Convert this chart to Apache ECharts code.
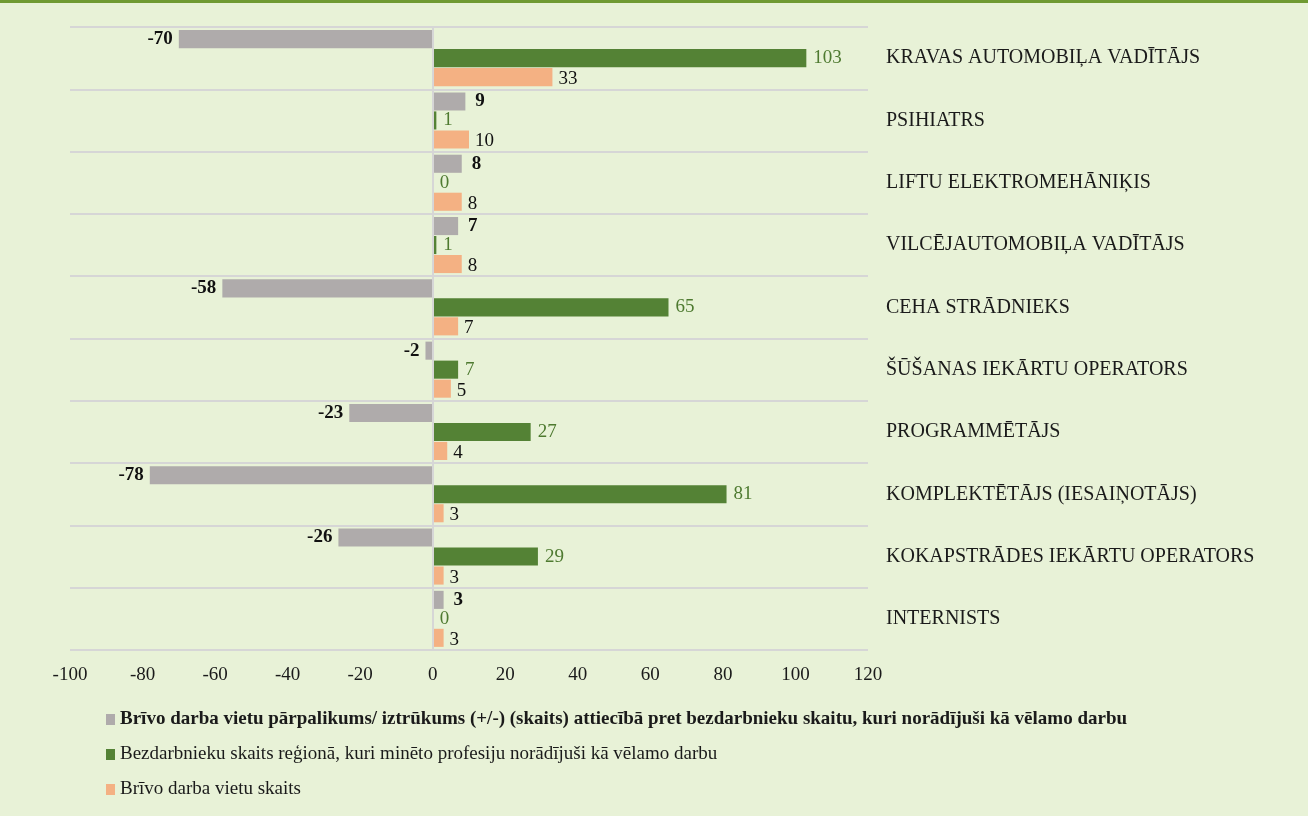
<!DOCTYPE html>
<html>
<head>
<meta charset="utf-8">
<script src="https://cdn.jsdelivr.net/npm/echarts@6/dist/echarts.min.js"></script>
<style>
  html, body { margin: 0; padding: 0; background: #E8F2D7; }
  #chart { width: 1308px; height: 813px; border-top: 3px solid #6F9A32; }
</style>
</head>
<body>
<div id="chart"></div>
<script>
// dati (no augšas uz leju)
var professions = [
  'KRAVAS AUTOMOBIĻA VADĪTĀJS',
  'PSIHIATRS',
  'LIFTU ELEKTROMEHĀNIĶIS',
  'VILCĒJAUTOMOBIĻA VADĪTĀJS',
  'CEHA STRĀDNIEKS',
  'ŠŪŠANAS IEKĀRTU OPERATORS',
  'PROGRAMMĒTĀJS',
  'KOMPLEKTĒTĀJS (IESAIŅOTĀJS)',
  'KOKAPSTRĀDES IEKĀRTU OPERATORS',
  'INTERNISTS'
];
var surplus = [-70, 9, 8, 7, -58, -2, -23, -78, -26, 3];
var unemployed = [103, 1, 0, 1, 65, 7, 27, 81, 29, 0];
var vacancies = [33, 10, 8, 8, 7, 5, 4, 3, 3, 3];

var seriesNames = [
  'Brīvo darba vietu pārpalikums/ iztrūkums (+/-) (skaits) attiecībā pret bezdarbnieku skaitu, kuri norādījuši kā vēlamo darbu',
  'Bezdarbnieku skaits reģionā, kuri minēto profesiju norādījuši kā vēlamo darbu',
  'Brīvo darba vietu skaits'
];

var font = '"Liberation Serif", "Times New Roman", serif';

var chartDom = document.getElementById('chart');
var myChart = echarts.init(chartDom);
var option;

option = {
  backgroundColor: '#E8F2D7',
  textStyle: { fontFamily: font },
  animation: false,
  grid: {
    left: 70,
    right: 440,
    top: 24,
    height: 623
  },
  legend: {
    orient: 'vertical',
    left: 101,
    top: 702,
    itemGap: 16,
    itemWidth: 9,
    itemHeight: 11,
    icon: 'rect',
    data: seriesNames,
    formatter: function (name) {
      return name === seriesNames[0] ? '{b|' + name + '}' : name;
    },
    textStyle: {
      fontFamily: font,
      fontSize: 19,
      color: '#1a1a1a',
      rich: {
        b: { fontFamily: font, fontSize: 19, fontWeight: 'bold', color: '#1a1a1a' }
      }
    }
  },
  xAxis: {
    type: 'value',
    min: -100,
    max: 120,
    interval: 20,
    axisLine: { show: false },
    axisTick: { show: false },
    splitLine: { show: false },
    axisLabel: { fontFamily: font, fontSize: 19, color: '#1a1a1a', margin: 16 }
  },
  yAxis: {
    type: 'category',
    data: professions,
    inverse: true,
    position: 'right',
    axisLine: { show: false },
    axisTick: { show: false },
    axisLabel: { fontFamily: font, fontSize: 20, color: '#1a1a1a', margin: 18, align: 'left' },
    splitLine: { show: true, lineStyle: { color: '#D6D6D6', width: 2 } }
  },
  series: [
    {
      name: seriesNames[0],
      type: 'bar',
      barCategoryGap: '10%',
      barGap: '5%',
      itemStyle: { color: '#AFABAB' },
      label: {
        show: true,
        fontFamily: font,
        fontSize: 19,
        fontWeight: 'bold',
        color: '#111',
        distance: 6
      },
      data: surplus.map(function (v) {
        return { value: v, label: { position: v < 0 ? 'left' : 'right', distance: v < 0 ? 6 : 10 } };
      }),
      markLine: {
        silent: true,
        symbol: 'none',
        label: { show: false },
        lineStyle: { color: '#D6D6D6', width: 2, type: 'solid' },
        data: [{ xAxis: 0 }]
      }
    },
    {
      name: seriesNames[1],
      type: 'bar',
      barCategoryGap: '10%',
      barGap: '5%',
      itemStyle: { color: '#548235' },
      label: {
        show: true,
        position: 'right',
        fontFamily: font,
        fontSize: 19,
        color: '#4E7A30',
        distance: 7
      },
      data: unemployed
    },
    {
      name: seriesNames[2],
      type: 'bar',
      barCategoryGap: '10%',
      barGap: '5%',
      itemStyle: { color: '#F4B183' },
      label: {
        show: true,
        position: 'right',
        fontFamily: font,
        fontSize: 19,
        color: '#111',
        distance: 6,
        offset: [0, 2]
      },
      data: vacancies
    }
  ]
};
option && myChart.setOption(option);
</script>
</body>
</html>
